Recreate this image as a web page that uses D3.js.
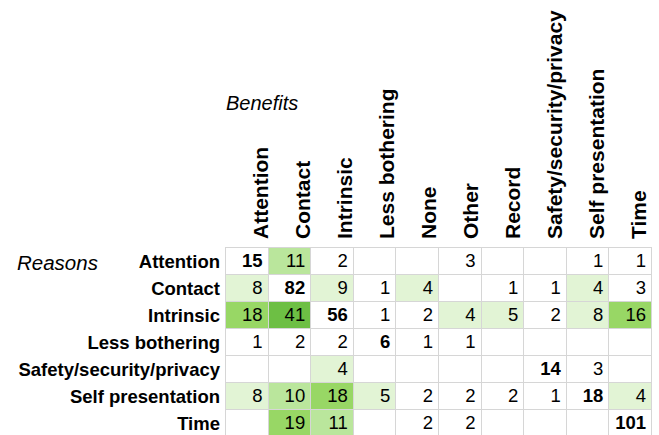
<!DOCTYPE html>
<html>
<head>
<meta charset="utf-8">
<script src="https://cdn.jsdelivr.net/npm/d3@7"></script>
<style>
  body { margin: 0; background: #fff; }
  svg { font-family: "Liberation Sans", Arial, sans-serif; }
</style>
</head>
<body>
<svg width="659" height="435"></svg>
<script>
var benefits = ["Attention", "Contact", "Intrinsic", "Less bothering", "None", "Other", "Record", "Safety/security/privacy", "Self presentation", "Time"];
var reasons = ["Attention", "Contact", "Intrinsic", "Less bothering", "Safety/security/privacy", "Self presentation", "Time"];

// one row of counts per reason, null = empty cell
var attention = [15, 11, 2, null, null, 3, null, null, 1, 1];
var contact = [8, 82, 9, 1, 4, null, 1, 1, 4, 3];
var intrinsic = [18, 41, 56, 1, 2, 4, 5, 2, 8, 16];
var lessBothering = [1, 2, 2, 6, 1, 1, null, null, null, null];
var safety = [null, null, 4, null, null, null, null, 14, 3, null];
var selfPresentation = [8, 10, 18, 5, 2, 2, 2, 1, 18, 4];
var time = [null, 19, 11, null, 2, 2, null, null, null, 101];

var counts = [attention, contact, intrinsic, lessBothering, safety, selfPresentation, time];

var svg = d3.select("svg");

var x = d3.scaleBand().domain(benefits).range([225, 651]);
var xh = d3.scaleBand().domain(benefits).range([226, 646]); // header columns sit a little tighter
var y = d3.scaleBand().domain(reasons).range([247, 436]);

var color = d3.scaleThreshold()
  .domain([4, 10, 15, 30])
  .range(["#ffffff", "#e2f4d5", "#bae69c", "#98d765", "#6dbf44"]);

var cells = [];
counts.forEach(function(row, i) {
  row.forEach(function(v, j) {
    cells.push({ r: reasons[i], c: benefits[j], v: v, diag: reasons[i] === benefits[j] });
  });
});

var g = svg.append("g");

g.selectAll(".cell")
  .data(cells)
  .enter()
  .append("rect")
  .attr("class", "cell")
  .attr("x", function(d) { return Math.round(x(d.c)) + 0.5; })
  .attr("y", function(d) { return Math.round(y(d.r)) + 0.5; })
  .attr("width", function(d) { return Math.round(x(d.c) + x.bandwidth()) - Math.round(x(d.c)); })
  .attr("height", function(d) { return Math.round(y(d.r) + y.bandwidth()) - Math.round(y(d.r)); })
  .style("fill", function(d) { return (d.v == null || d.diag) ? "#fff" : color(d.v); })
  .style("stroke", "#d6d6d6")
  .style("stroke-width", 1);

g.selectAll(".val")
  .data(cells.filter(function(d) { return d.v != null; }))
  .enter()
  .append("text")
  .attr("x", function(d) { return x(d.c) + x.bandwidth() - 5; })
  .attr("y", function(d) { return y(d.r) + y.bandwidth() - 7; })
  .attr("text-anchor", "end")
  .style("font-size", "18.5px")
  .style("font-weight", function(d) { return d.diag ? "bold" : "normal"; })
  .style("fill", "#000")
  .text(function(d) { return d.v; });

// column headers, rotated
svg.selectAll(".colLabel")
  .data(benefits)
  .enter()
  .append("text")
  .attr("transform", function(d) { return "translate(" + (xh(d) + xh.bandwidth()) + ",239) rotate(-90)"; })
  .style("font-size", "21px")
  .style("font-weight", "bold")
  .text(function(d) { return d; });

// row headers
svg.selectAll(".rowLabel")
  .data(reasons)
  .enter()
  .append("text")
  .attr("x", 220)
  .attr("y", function(d) { return y(d) + y.bandwidth() - 6; })
  .attr("text-anchor", "end")
  .style("font-size", "18.5px")
  .style("font-weight", "bold")
  .text(function(d) { return d; });

svg.append("text")
  .attr("x", 226)
  .attr("y", 110)
  .style("font-size", "20px")
  .style("font-style", "italic")
  .text("Benefits");

svg.append("text")
  .attr("x", 17)
  .attr("y", 270)
  .style("font-size", "20.5px")
  .style("font-style", "italic")
  .text("Reasons");
</script>
</body>
</html>
